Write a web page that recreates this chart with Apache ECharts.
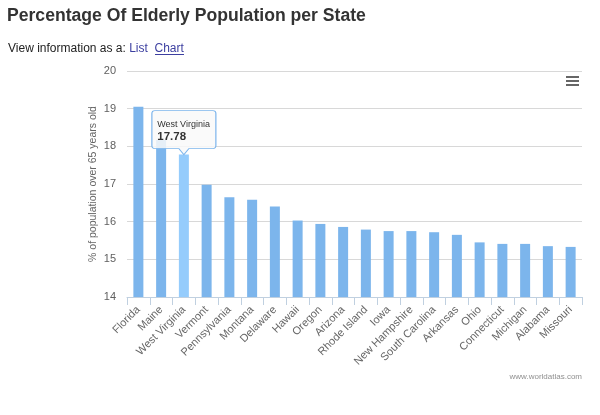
<!DOCTYPE html>
<html>
<head>
<meta charset="utf-8">
<script src="https://cdn.jsdelivr.net/npm/echarts@6/dist/echarts.min.js"></script>
<style>
html,body{margin:0;padding:0;background:#fff;}
#chart{width:600px;height:415px;}
</style>
</head>
<body>
<div id="chart"></div>
<script>
var titleText = 'Percentage Of Elderly Population per State';
var viewText = 'View information as a:';
var linkList = 'List';
var linkChart = 'Chart';
var yAxisTitle = '% of population over 65 years old';
var creditText = 'www.worldatlas.com';

var states = ['Florida','Maine','West Virginia','Vermont','Pennsylvania','Montana','Delaware','Hawaii','Oregon','Arizona','Rhode Island','Iowa','New Hampshire','South Carolina','Arkansas','Ohio','Connecticut','Michigan','Alabama','Missouri'];
var elderlyPct = [19.05,18.17,17.78,16.98,16.65,16.58,16.40,16.03,15.94,15.86,15.79,15.75,15.75,15.72,15.65,15.45,15.41,15.41,15.35,15.33];
var yTicks = [14,15,16,17,18,19,20];
var hoverIndex = 2;

var barColor = '#7cb5ec';
var hoverColor = '#95ccfc';
var FONT = 'Liberation Sans, Arial, sans-serif';

var seriesData = elderlyPct.map(function(v,i){
  return i === hoverIndex ? {value:v, itemStyle:{color:hoverColor}} : v;
});

var chart = echarts.init(document.getElementById('chart'), null, {renderer:'canvas'});
chart.setOption({
  backgroundColor:'#ffffff',
  animation:false,
  textStyle:{fontFamily:FONT},
  title:[{
    text:titleText, left:7, top:7, padding:0,
    textStyle:{fontSize:17.6, fontWeight:'bold', color:'#333333', fontFamily:FONT}
  },{
    text:'{a|'+viewText+' }{b|'+linkList+'}{a|  }{b|'+linkChart+'}', left:8, top:43, padding:0,
    textStyle:{fontWeight:'normal', fontSize:12, rich:{
      a:{fontSize:12, fontWeight:'normal', color:'#222222', fontFamily:FONT},
      b:{fontSize:12, fontWeight:'normal', color:'#3c3fa0', fontFamily:FONT}
    }}
  },{
    text:creditText, right:18, top:373, padding:0,
    textStyle:{fontSize:8, fontWeight:'normal', color:'#909090', fontFamily:FONT}
  }],
  graphic:[
    {type:'line', shape:{x1:155, y1:54.5, x2:184, y2:54.5}, style:{stroke:'#3c3fa0', lineWidth:1}},
    {type:'rect', shape:{x:566, y:76, width:13, height:2}, style:{fill:'#666666'}},
    {type:'rect', shape:{x:566, y:80, width:13, height:2}, style:{fill:'#666666'}},
    {type:'rect', shape:{x:566, y:84, width:13, height:2}, style:{fill:'#666666'}}
  ],
  grid:{left:127, right:18, top:71, bottom:118, containLabel:false},
  xAxis:{
    type:'category', data:states,
    axisLine:{lineStyle:{color:'#C0D0E0', width:1}},
    axisTick:{show:true, length:8, alignWithLabel:false, lineStyle:{color:'#C0D0E0'}},
    axisLabel:{rotate:45, interval:0, fontSize:11, color:'#666666', margin:11, fontFamily:FONT}
  },
  yAxis:{
    type:'value', min:yTicks[0], max:yTicks[yTicks.length-1], interval:1,
    name:yAxisTitle, nameLocation:'middle', nameGap:28, nameMoveOverlap:false,
    nameTextStyle:{fontSize:10.5, color:'#666666', fontFamily:FONT},
    axisLine:{show:false}, axisTick:{show:false},
    axisLabel:{fontSize:11, color:'#606060', margin:11, fontFamily:FONT},
    splitLine:{lineStyle:{color:'#D8D8D8', width:1}}
  },
  series:[{
    type:'bar', data:seriesData, barWidth:10,
    itemStyle:{color:barColor},
    markPoint:{
      symbol:'path://M0,3 Q0,0 3,0 L61,0 Q64,0 64,3 L64,35 Q64,38 61,38 L37,38 L32,44 L27,38 L3,38 Q0,38 0,35 Z',
      symbolSize:[64,44], symbolOffset:[0,-22], symbolKeepAspect:false,
      itemStyle:{color:'rgba(249,249,249,0.85)', borderColor:barColor, borderWidth:1},
      label:{
        show:true, position:[6,8],
        formatter:function(p){ return '{a|'+p.name+'}\n{b|'+p.value+'}'; },
        rich:{
          a:{fontSize:9, color:'#333333', lineHeight:12, fontFamily:FONT},
          b:{fontSize:11.5, fontWeight:'bold', color:'#333333', lineHeight:14, fontFamily:FONT}
        }
      },
      data:[{name:states[hoverIndex], coord:[states[hoverIndex], elderlyPct[hoverIndex]], value:elderlyPct[hoverIndex]}]
    }
  }]
});
</script>
</body>
</html>
